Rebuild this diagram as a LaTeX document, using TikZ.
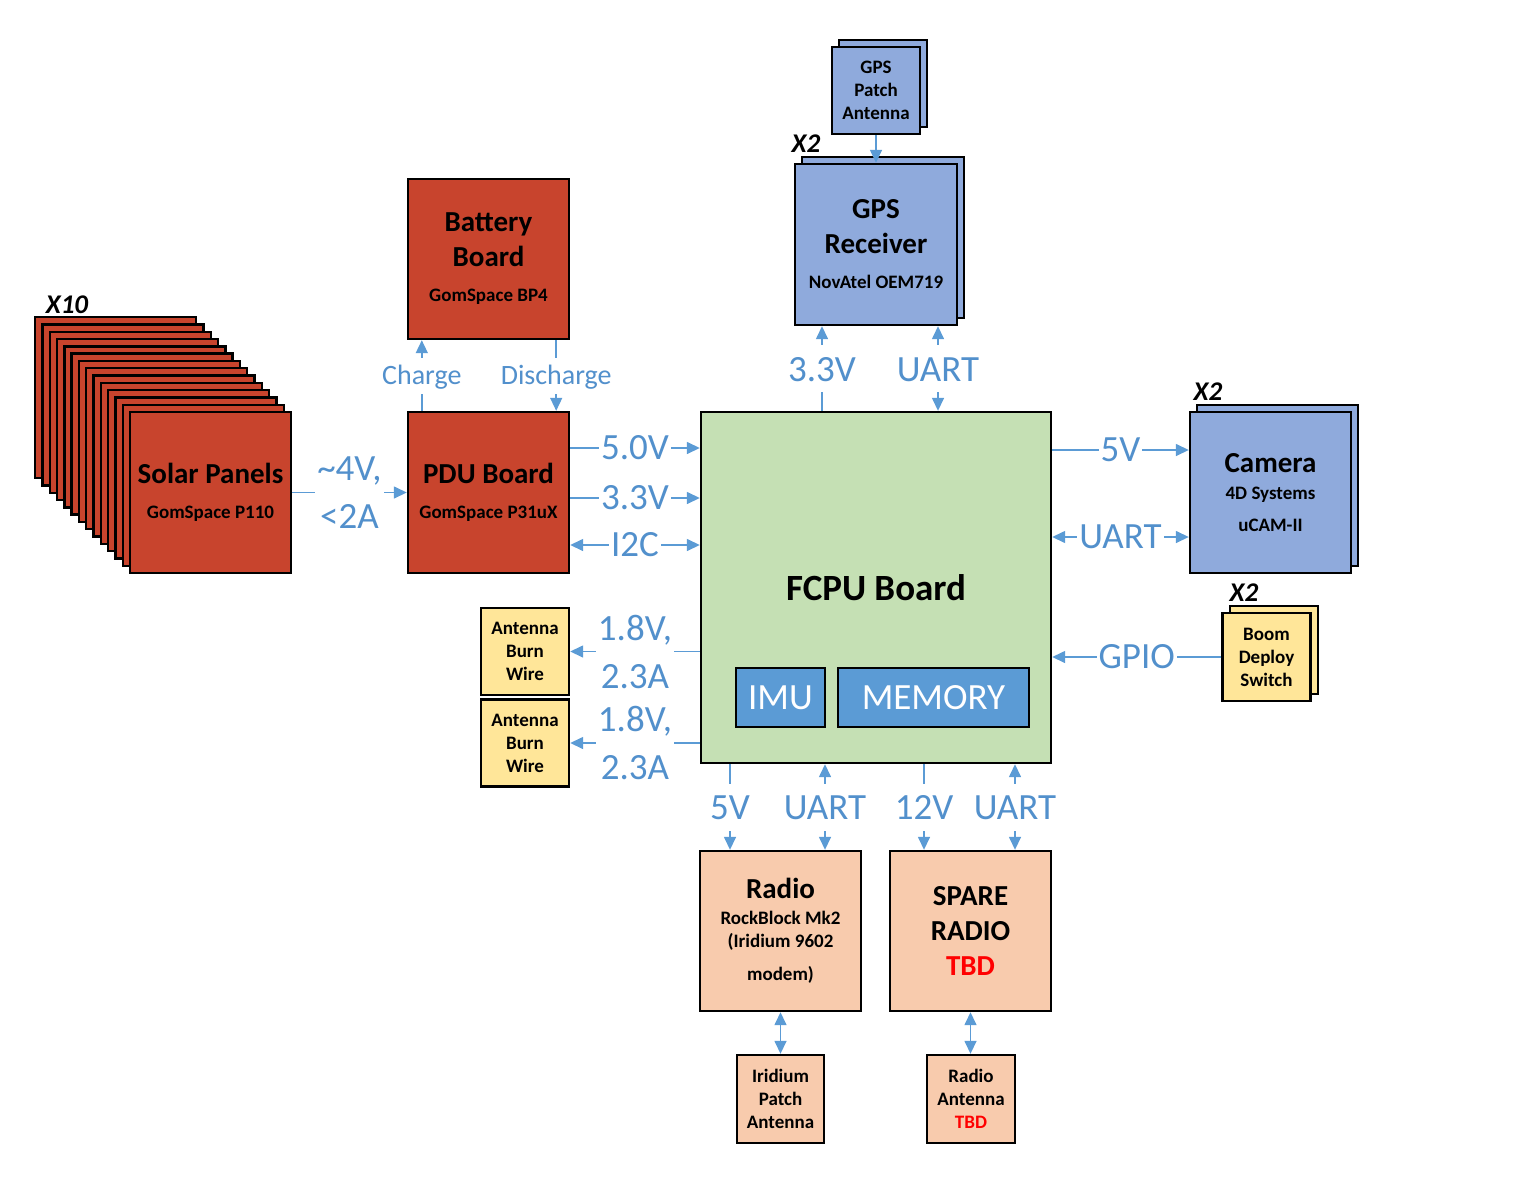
\documentclass[tikz,border=0pt]{standalone}
\usepackage{fontspec}
\setmainfont{Carlito}
\usetikzlibrary{arrows.meta,calc}
\definecolor{sred}{RGB}{200,68,45}
\definecolor{sblue}{HTML}{8FAADC}
\definecolor{sgreen}{HTML}{C5E0B4}
\definecolor{syellow}{HTML}{FFE699}
\definecolor{speach}{HTML}{F8CBAD}
\definecolor{lblue}{HTML}{5B9BD5}
\definecolor{tblue}{HTML}{5290CC}
\newcommand\fsz[2]{\fontsize{#1}{#2}\selectfont}
\newcommand\bigT[1]{{\fsz{29}{29}#1}}
\begin{document}
\begin{tikzpicture}[x=1pt,y=-1pt,>={Triangle[length=13pt,width=12pt]},
  box/.style={draw=black,line width=2.4pt,inner sep=0pt,align=center},
  bigbox/.style={box,minimum width=161pt,minimum height=161pt},
  smallbox/.style={box,minimum width=88pt,minimum height=88pt,font=\bfseries\fsz{19}{23}},
  conn/.style={draw=lblue,line width=1.5pt},
  lab/.style={fill=white,text=tblue,inner sep=2pt,font=\fsz{37}{48},align=center},
  vlab/.style={lab,text height=34pt,text depth=9pt},
  clab/.style={lab,font=\fsz{28}{28},text height=25pt,text depth=7pt},
  xl/.style={font=\bfseries\itshape\fsz{27}{27},inner sep=0pt}]
\useasboundingbox (0,0) rectangle (1523,1183);

% Solar panels stack
\foreach \i in {13,12,...,1}{
  \node[bigbox,fill=sred] (sp\i) at ({210.5-7.3*\i},{492.5-7.3*\i}) {};
}
\node[bigbox,fill=sred,font=\bfseries\fsz{19}{35}] (solar) at (210.5,492.5) {\bigT{Solar Panels}\\GomSpace P110};
\node[xl] (x10) at (67,305) {X10};

% Battery and PDU
\node[bigbox,fill=sred,minimum height=160pt,font=\bfseries\fsz{19}{35}] (battery) at (488.5,259) {\bigT{Battery}\\\bigT{Board}\\GomSpace BP4};
\node[bigbox,fill=sred,font=\bfseries\fsz{19}{35}] (pdu) at (488.5,492.5) {\bigT{PDU Board}\\GomSpace P31uX};

% FCPU
\node[box,fill=sgreen,minimum width=350pt,minimum height=351pt,font=\bfseries\fsz{37}{37}] (fcpu) at (876,587.5) {FCPU Board};
\node[box,line width=2pt,fill=lblue,text=white,minimum width=89pt,minimum height=59pt,font=\fsz{37}{37}] (imu) at (780.5,697.5) {IMU};
\node[box,line width=2pt,fill=lblue,text=white,minimum width=191pt,minimum height=59pt,font=\fsz{37}{37}] (mem) at (933.5,697.5) {MEMORY};

% Antenna burn wires
\node[smallbox,fill=syellow,minimum height=87pt] (burn1) at (525,651.5) {Antenna\\Burn\\Wire};
\node[smallbox,fill=syellow,minimum height=87pt] (burn2) at (525,743) {Antenna\\Burn\\Wire};

% GPS
\node[smallbox,fill=sblue,minimum height=87pt] (patchb) at (883,83.5) {};
\node[smallbox,fill=sblue,minimum height=87pt] (patch) at (876,90.5) {GPS\\Patch\\Antenna};
\node[bigbox,fill=sblue,minimum width=162pt] (gpsb) at (883,237.5) {};
\node[bigbox,fill=sblue,minimum width=162pt,font=\bfseries\fsz{19}{35}] (gps) at (876,244.5) {\bigT{GPS}\\\bigT{Receiver}\\NovAtel OEM719};
\node[xl] (x2g) at (806,144) {X2};

% Camera
\node[bigbox,fill=sblue] (camb) at (1277.5,485.5) {};
\node[bigbox,fill=sblue,font=\bfseries\fsz{19}{23}] (cam) at (1270.5,492.5) {\bigT{Camera}\\[4pt]4D Systems\\[9pt]uCAM-II};
\node[xl] (x2c) at (1208,392) {X2};

% Boom deploy switch
\node[smallbox,fill=syellow] (boomb) at (1274,650) {};
\node[smallbox,fill=syellow] (boom) at (1266.5,657) {Boom\\Deploy\\Switch};
\node[xl] (x2b) at (1244,593) {X2};

% Radios
\node[bigbox,fill=speach,minimum height=160pt,font=\bfseries\fsz{19}{23}] (radio) at (780.5,931) {\bigT{Radio}\\[3pt]RockBlock Mk2\\(Iridium 9602\\[10pt]modem)};
\node[bigbox,fill=speach,minimum height=160pt,font=\bfseries\fsz{19}{35}] (spare) at (970.5,931) {\bigT{SPARE}\\\bigT{RADIO}\\\bigT{\color{red}TBD}};
\node[smallbox,fill=speach,minimum width=87pt] (irid) at (780.5,1099) {Iridium\\Patch\\Antenna};
\node[smallbox,fill=speach] (rant) at (971,1099) {Radio\\Antenna\\{\color{red}TBD}};

% helper coordinates
\coordinate (c50) at ([yshift=44.5pt]pdu.east);
\coordinate (c33) at ([yshift=-5.5pt]pdu.east);
\coordinate (ci2c) at ([yshift=-52.5pt]pdu.east);
\coordinate (cch) at ([xshift=15pt]battery.south west);
\coordinate (cdis) at ([xshift=-14pt]battery.south east);
\coordinate (cg33) at ([xshift=-54pt]gps.south);
\coordinate (cgu) at ([xshift=62pt]gps.south);
\coordinate (ccam5) at ([yshift=42.5pt]cam.west);
\coordinate (ccamu) at ([yshift=-44.5pt]cam.west);
\coordinate (rad5) at ([xshift=-50.5pt]radio.north);
\coordinate (radu) at ([xshift=44.5pt]radio.north);
\coordinate (sp12) at ([xshift=-46.5pt]spare.north);
\coordinate (spu) at ([xshift=44.5pt]spare.north);

% connectors
\draw[conn,->] (solar.east) -- node[lab]{\textasciitilde4V,\\<2A} (pdu.west);
\draw[conn,->] (cch |- pdu.north) -- node[clab]{Charge} (cch);
\draw[conn,->] (cdis) -- node[clab]{Discharge} (cdis |- pdu.north);
\draw[conn,->] (c50) -- node[lab]{5.0V} (c50 -| fcpu.west);
\draw[conn,->] (c33) -- node[lab]{3.3V} (c33 -| fcpu.west);
\draw[conn,<->] (ci2c) -- node[lab]{I2C} (ci2c -| fcpu.west);
\draw[conn,->] (burn1.east -| fcpu.west) -- node[lab]{1.8V,\\2.3A} (burn1.east);
\draw[conn,->] (burn2.east -| fcpu.west) -- node[lab]{1.8V,\\2.3A} (burn2.east);
\draw[conn,->] (patch.south) -- (patch.south |- gps.north);
\draw[conn,->] (cg33 |- fcpu.north) -- node[vlab]{3.3V} (cg33);
\draw[conn,<->] (cgu) -- node[vlab]{UART} (cgu |- fcpu.north);
\draw[conn,->] (ccam5 -| fcpu.east) -- node[lab]{5V} (ccam5);
\draw[conn,<->] (ccamu -| fcpu.east) -- node[lab]{UART} (ccamu);
\draw[conn,->] (boom.west) -- node[lab]{GPIO} (boom.west -| fcpu.east);
\draw[conn,->] (rad5 |- fcpu.south) -- node[vlab]{5V} (rad5);
\draw[conn,<->] (radu |- fcpu.south) -- node[vlab]{UART} (radu);
\draw[conn,->] (sp12 |- fcpu.south) -- node[vlab]{12V} (sp12);
\draw[conn,<->] (spu |- fcpu.south) -- node[vlab]{UART} (spu);
\draw[conn,<->] (radio.south) -- (radio.south |- irid.north);
\draw[conn,<->] (spare.south) -- (spare.south |- rant.north);
\end{tikzpicture}
\end{document}
